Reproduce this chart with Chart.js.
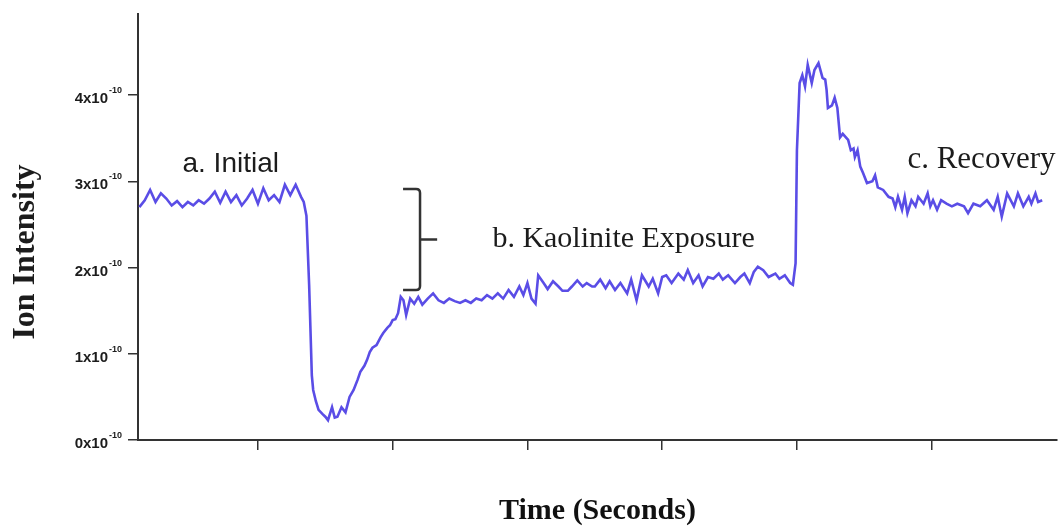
<!DOCTYPE html>
<html>
<head>
<meta charset="utf-8">
<title>Ion Intensity</title>
<script src="https://cdn.jsdelivr.net/npm/chart.js@4"></script>
<style>
  html, body { margin: 0; padding: 0; background: #fff; }
  #wrap { width: 1063px; height: 527px; }
</style>
</head>
<body>
<div id="wrap"><canvas id="ionChart" width="1063" height="527"></canvas></div>
<script>
// time (s) and ion intensity (x1e-10)
const time = [
  12, 16, 20, 24, 28, 32, 36, 40, 44, 48, 52, 56, 60, 64, 68, 72, 76, 80, 84, 88,
  92, 96, 100, 104, 108, 112, 116, 120, 124, 128, 132, 134, 136, 138, 140, 141, 143, 145, 148, 150,
  152, 155, 157, 159, 162, 165, 168, 171, 174, 176, 179, 181, 183, 185, 188, 191, 193, 196, 198, 200,
  202, 204, 206, 208, 210, 213, 216, 219, 222, 226, 230, 234, 238, 242, 246, 250, 254, 258, 262, 266,
  270, 274, 278, 282, 286, 290, 294, 297, 300, 303, 306, 308, 312, 315, 319, 323, 326, 330, 333, 337,
  341, 344, 348, 350, 354, 358, 361, 365, 369, 374, 377, 381, 385, 390, 393, 397, 400, 403, 407, 412,
  416, 419, 423, 427, 430, 434, 438, 442, 445, 449, 454, 458, 461, 465, 468, 471, 475, 479, 484, 487,
  491, 495, 497, 499, 500, 502, 504, 506, 508, 511, 513, 516, 519, 521, 522, 523, 526, 528, 530, 532,
  534, 538, 540, 542, 543, 545, 547, 549, 552, 556, 558, 560, 564, 568, 571, 573, 575, 578, 580, 582,
  585, 588, 590, 594, 597, 599, 601, 604, 607, 611, 615, 619, 624, 627, 631, 636, 641, 646, 649, 652,
  656, 661, 664, 668, 672, 674, 677, 679, 682
];
const ionIntensity = [
  2.70, 2.78, 2.90, 2.76, 2.86, 2.80, 2.72, 2.77, 2.70, 2.76, 2.72, 2.78, 2.74, 2.80, 2.88, 2.75, 2.88, 2.76, 2.84, 2.72,
  2.80, 2.90, 2.74, 2.92, 2.78, 2.84, 2.76, 2.96, 2.84, 2.96, 2.82, 2.76, 2.60, 1.80, 0.75, 0.58, 0.45, 0.35, 0.30, 0.27,
  0.23, 0.38, 0.26, 0.27, 0.38, 0.32, 0.50, 0.58, 0.70, 0.79, 0.86, 0.93, 1.02, 1.07, 1.10, 1.19, 1.24, 1.30, 1.33, 1.39,
  1.40, 1.47, 1.66, 1.62, 1.45, 1.64, 1.58, 1.66, 1.57, 1.64, 1.70, 1.62, 1.59, 1.64, 1.61, 1.59, 1.62, 1.59, 1.64, 1.62,
  1.68, 1.64, 1.70, 1.64, 1.74, 1.66, 1.78, 1.68, 1.82, 1.64, 1.58, 1.91, 1.82, 1.75, 1.84, 1.78, 1.73, 1.73, 1.78, 1.85,
  1.78, 1.82, 1.78, 1.78, 1.86, 1.76, 1.84, 1.74, 1.82, 1.70, 1.86, 1.62, 1.91, 1.78, 1.87, 1.70, 1.89, 1.91, 1.82, 1.93,
  1.86, 1.97, 1.82, 1.91, 1.78, 1.89, 1.87, 1.93, 1.86, 1.91, 1.82, 1.89, 1.93, 1.82, 1.95, 2.01, 1.97, 1.89, 1.93, 1.87,
  1.91, 1.82, 1.80, 2.05, 3.36, 4.14, 4.23, 4.10, 4.35, 4.14, 4.29, 4.37, 4.20, 4.18, 4.06, 3.85, 3.88, 3.97, 3.85, 3.51,
  3.55, 3.48, 3.36, 3.38, 3.28, 3.36, 3.17, 3.10, 2.98, 3.00, 3.07, 2.93, 2.90, 2.82, 2.80, 2.70, 2.82, 2.67, 2.82, 2.63,
  2.78, 2.71, 2.82, 2.74, 2.86, 2.71, 2.78, 2.67, 2.78, 2.74, 2.71, 2.74, 2.71, 2.63, 2.74, 2.71, 2.78, 2.67, 2.82, 2.59,
  2.86, 2.71, 2.86, 2.71, 2.82, 2.74, 2.86, 2.76, 2.78
];
const xTicks = [100, 200, 300, 400, 500, 600];
const yTicks = [0, 1, 2, 3, 4];

const serif = '"Liberation Serif", "Times New Roman", serif';
const sans = '"Liberation Sans", Arial, sans-serif';
const ink = '#1c1c1c';

// text labels, tick labels with exponent and the bracket
const annotations = {
  id: 'annotations',
  afterDraw(chart) {
    const { ctx, scales: { x, y } } = chart;
    ctx.save();
    ctx.fillStyle = ink;

    // y tick labels: "4x10" + superscript "-10"
    yTicks.forEach(v => {
      const py = y.getPixelForValue(v);
      ctx.font = 'bold 15px ' + sans;
      ctx.textAlign = 'right';
      ctx.textBaseline = 'alphabetic';
      ctx.fillText(v + 'x10', y.left - 20, py + 8);
      ctx.font = 'bold 9px ' + sans;
      ctx.textAlign = 'left';
      ctx.fillText('-10', y.left - 19, py - 2);
    });

    // y title
    ctx.save();
    ctx.translate(34, 252);
    ctx.rotate(-Math.PI / 2);
    ctx.font = 'bold 32px ' + serif;
    ctx.textAlign = 'center';
    ctx.fillText('Ion Intensity', 0, 0);
    ctx.restore();

    // region labels
    ctx.textAlign = 'left';
    ctx.font = '28px ' + sans;
    ctx.fillText('a. Initial', x.getPixelForValue(44), y.getPixelForValue(3.11));
    ctx.font = '30px ' + serif;
    ctx.fillText('b. Kaolinite Exposure', x.getPixelForValue(274), y.getPixelForValue(2.24));
    ctx.font = '31px ' + serif;
    ctx.fillText('c. Recovery', x.getPixelForValue(582), y.getPixelForValue(3.15));

    // bracket
    const bx = x.getPixelForValue(220.3);
    const armL = x.getPixelForValue(207.7);
    const prong = x.getPixelForValue(233);
    const top = y.getPixelForValue(2.91);
    const bot = y.getPixelForValue(1.74);
    const mid = (top + bot) / 2;
    ctx.strokeStyle = '#333';
    ctx.lineWidth = 2.5;
    ctx.beginPath();
    ctx.moveTo(armL, top);
    ctx.lineTo(bx - 4, top);
    ctx.quadraticCurveTo(bx, top, bx, top + 4);
    ctx.lineTo(bx, bot - 4);
    ctx.quadraticCurveTo(bx, bot, bx - 4, bot);
    ctx.lineTo(armL, bot);
    ctx.moveTo(bx, mid);
    ctx.lineTo(prong, mid);
    ctx.stroke();

    ctx.restore();
  }
};

const ctx = document.getElementById('ionChart').getContext('2d');
new Chart(ctx, {
  type: 'line',
  data: {
    datasets: [{
      label: 'Ion Intensity',
      data: time.map((t, i) => ({ x: t, y: ionIntensity[i] })),
      borderColor: '#5a4de6',
      borderWidth: 2.6,
      pointRadius: 0,
      tension: 0,
      fill: false
    }]
  },
  options: {
    responsive: false,
    animation: false,
    layout: { padding: { left: 128, top: 14, right: 6, bottom: 0 } },
    plugins: { legend: { display: false }, tooltip: { enabled: false } },
    scales: {
      x: {
        type: 'linear',
        min: 11,
        max: 693,
        afterBuildTicks: s => { s.ticks = xTicks.map(v => ({ value: v })); },
        ticks: { display: false },
        grid: { drawOnChartArea: false, drawTicks: true, tickLength: 10, color: '#333', lineWidth: 1.5 },
        border: { color: '#333', width: 2 },
        title: {
          display: true,
          text: 'Time (Seconds)',
          color: '#111',
          font: { family: serif, size: 30, weight: 'bold', lineHeight: 1 },
          padding: { top: 46, bottom: 1 }
        }
      },
      y: {
        min: 0,
        max: 4.94,
        afterBuildTicks: s => { s.ticks = yTicks.map(v => ({ value: v })); },
        ticks: { display: false },
        grid: { drawOnChartArea: false, drawTicks: true, tickLength: 10, color: '#333', lineWidth: 1.5 },
        border: { color: '#333', width: 2 }
      }
    }
  },
  plugins: [annotations]
});
</script>
</body>
</html>
